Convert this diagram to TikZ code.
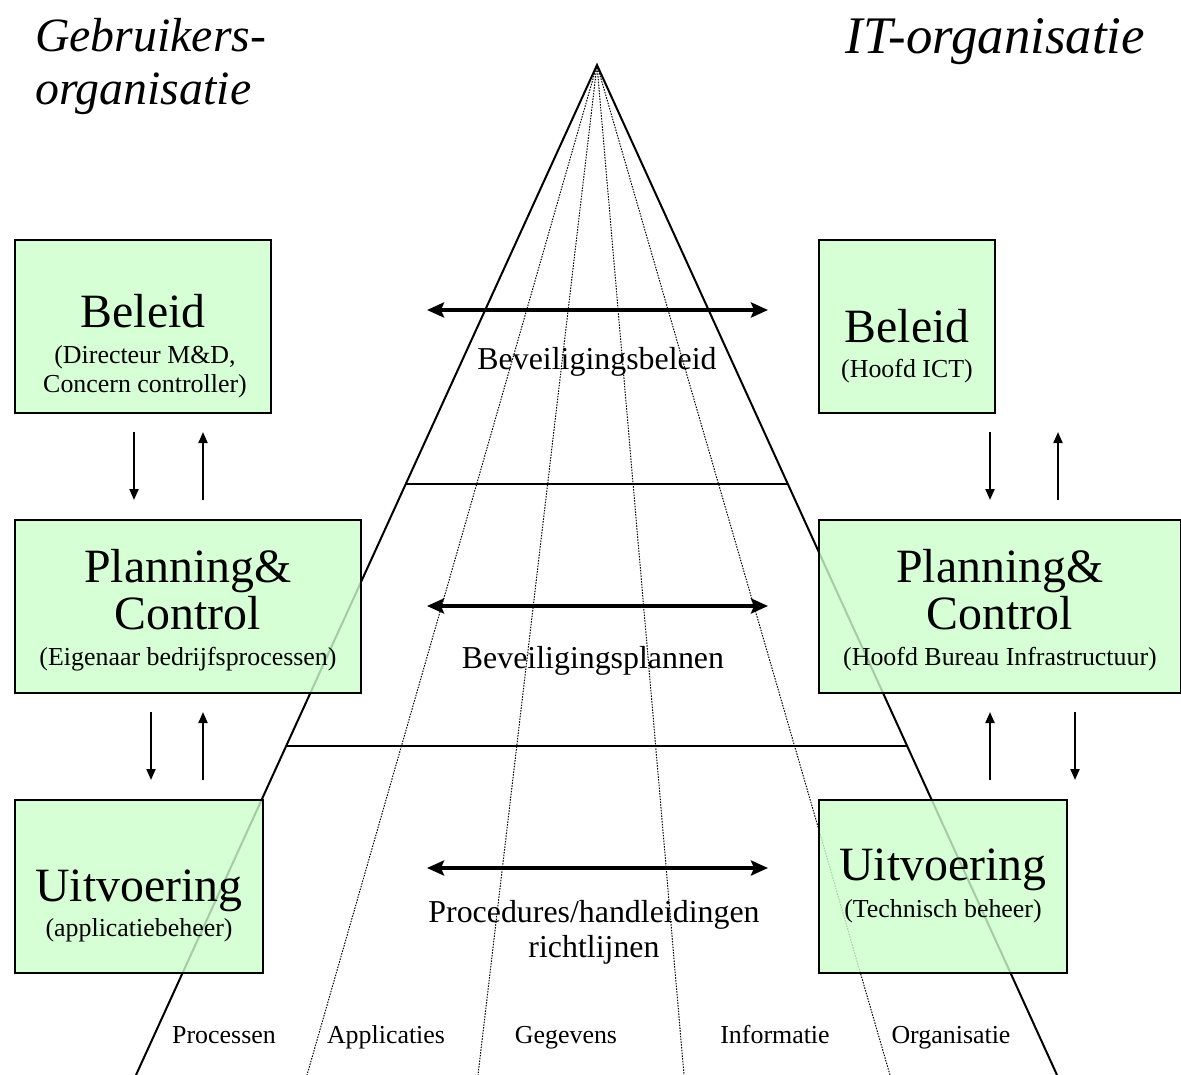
\documentclass[tikz,border=0pt]{standalone}
\usepackage{fontspec}
\setmainfont{Liberation Serif}
\usetikzlibrary{arrows.meta,calc}

\definecolor{boxgreen}{RGB}{204,255,204}

\newcommand{\bigtxt}{\fontsize{48}{48}\selectfont}
\newcommand{\midtxt}{\fontsize{32}{36}\selectfont}
\newcommand{\smalltxt}{\fontsize{26}{30}\selectfont}
\newcommand{\rows}[1]{\begin{tabular}[t]{@{}c@{}}#1\end{tabular}}

\begin{document}
\begin{tikzpicture}
	[x=1bp,y=-1bp,
	%Styles
	edge line/.style={line width=2bp,line join=miter},
	split line/.style={line width=1.5bp},
	ray/.style={line width=1bp,dash pattern=on 1.5bp off 1.3bp},
	box/.style={draw,line width=2bp,fill=boxgreen,fill opacity=.8,
		inner sep=0pt,outer sep=0pt,anchor=north west,minimum height=173bp},
	big arrow/.style={line width=4bp,
		{Stealth[length=17bp,width=15bp,inset=3bp]}-{Stealth[length=17bp,width=15bp,inset=3bp]}},
	small arrow/.style={line width=2bp,-{Triangle[length=11bp,width=9bp]}},
	title/.style={font=\fontsize{48}{54}\selectfont\itshape,inner sep=0pt},
	bigt/.style={font=\bigtxt,inner sep=0pt,anchor=base},
	smallt/.style={font=\smalltxt,inner sep=0pt,anchor=base},
	midt/.style={font=\midtxt,inner sep=0pt,anchor=base},
	colt/.style={font=\fontsize{26}{30}\selectfont,inner sep=0pt,anchor=base}
	]
	\useasboundingbox (0,0) rectangle (1181,1075);
	
	%The pyramid
	\coordinate (apex) at (597,65);
	\coordinate (bl) at (136,1075);
	\coordinate (br) at (1057,1075);
	\foreach \x in {307,478,684,890}
		\draw[ray] (apex) -- (\x,1075);
	\draw[edge line] (bl) -- (apex) -- (br);
	\draw[split line] ($(apex)!0.4149!(bl)$) -- ($(apex)!0.4149!(br)$);
	\draw[split line] ($(apex)!0.6743!(bl)$) -- ($(apex)!0.6743!(br)$);
	
	%Boxes
	\node[box,minimum width=256bp] (lbel) at (15,240) {};
	\node[box,minimum width=346bp] (lpc) at (15,520) {};
	\node[box,minimum width=248bp] (luit) at (15,800) {};
	\node[box,minimum width=176bp] (rbel) at (819,240) {};
	\node[box,minimum width=362bp] (rpc) at (819,520) {};
	\node[box,minimum width=248bp] (ruit) at (819,800) {};
	
	%Titles
	\node[title,anchor=base west] (gebr) at (35,51)
		{\begin{tabular}[t]{@{}l@{}}Gebruikers-\\organisatie\end{tabular}};
	\node[title,font=\fontsize{53}{56}\selectfont\itshape,anchor=base east] (itorg) at (1145,53) {IT-organisatie};
	
	%Box texts
	\node[bigt] (lbel-t) at (143,327) {Beleid};
	\node[smallt] (lbel-s) at (145,363) {\rows{(Directeur M\&D,\\Concern controller)}};
	\node[bigt] (lpc-t) at (188,582) {\rows{Planning\&\\Control}};
	\node[smallt] (lpc-s) at (188,665) {(Eigenaar bedrijfsprocessen)};
	\node[bigt] (luit-t) at (139,901) {Uitvoering};
	\node[smallt] (luit-s) at (139,936) {(applicatiebeheer)};
	\node[bigt] (rbel-t) at (907,342) {Beleid};
	\node[smallt] (rbel-s) at (907,377) {(Hoofd ICT)};
	\node[bigt] (rpc-t) at (1000,582) {\rows{Planning\&\\Control}};
	\node[smallt] (rpc-s) at (1000,665) {(Hoofd Bureau Infrastructuur)};
	\node[bigt] (ruit-t) at (943,880) {Uitvoering};
	\node[smallt] (ruit-s) at (943,917) {(Technisch beheer)};
	
	%Middle
	\node[midt] (beleid) at (597,369) {Beveiligingsbeleid};
	\node[midt] (plannen) at (593,668) {Beveiligingsplannen};
	\node[midt] (proc) at (594,922) {\rows{Procedures/handleidingen\\richtlijnen}};
	\foreach \y in {310,606,868}
		\draw[big arrow] (427,\y) -- (768,\y);
	
	%Columns
	\node[colt] (c1) at (224,1043) {Processen};
	\node[colt] (c2) at (386,1043) {Applicaties};
	\node[colt] (c3) at (566,1043) {Gegevens};
	\node[colt] (c4) at (775,1043) {Informatie};
	\node[colt] (c5) at (951,1043) {Organisatie};
	
	%Arrows between levels
	\draw[small arrow] ([xshift=-9bp,yshift=-19bp]lbel.south) -- ++(0,68);
	\draw[small arrow] ([xshift=15bp,yshift=20bp]lpc.north) -- ++(0,-68);
	\draw[small arrow] ([xshift=-37bp,yshift=-19bp]lpc.south) -- ++(0,68);
	\draw[small arrow] ([xshift=64bp,yshift=20bp]luit.north) -- ++(0,-68);
	\draw[small arrow] ([xshift=83bp,yshift=-19bp]rbel.south) -- ++(0,68);
	\draw[small arrow] ([xshift=58bp,yshift=20bp]rpc.north) -- ++(0,-68);
	\draw[small arrow] ([xshift=47bp,yshift=20bp]ruit.north) -- ++(0,-68);
	\draw[small arrow] ([xshift=75bp,yshift=-19bp]rpc.south) -- ++(0,68);
\end{tikzpicture}
\end{document}
